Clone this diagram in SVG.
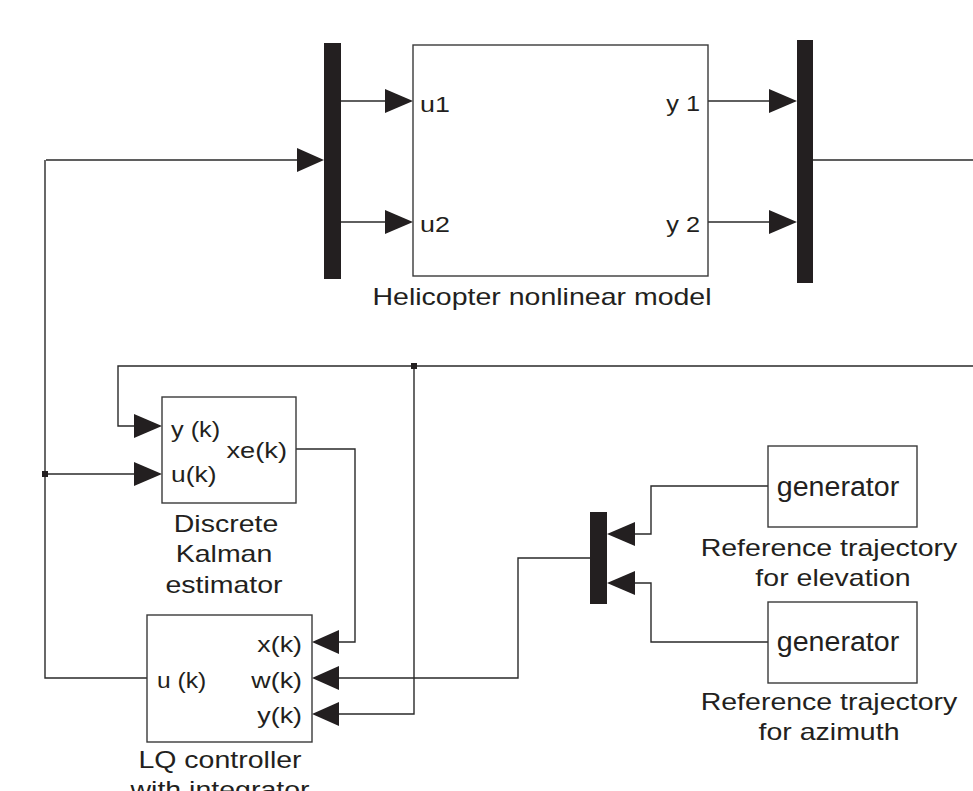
<svg xmlns="http://www.w3.org/2000/svg" width="973" height="791" viewBox="0 0 973 791">
<style>
.blk{fill:#fff;stroke:#3a3a3a;stroke-width:1.4}
.bar{fill:#231f20}
.ln{fill:none;stroke:#2a2a2a;stroke-width:1.4}
.ah{fill:#231f20}
.lbl{font-family:"Liberation Sans",Arial,sans-serif;font-size:23px;fill:#231f20}
.prt{font-family:"Liberation Sans",Arial,sans-serif;font-size:22px;fill:#231f20}
.gen{font-family:"Liberation Sans",Arial,sans-serif;font-size:27px;fill:#231f20}
.m{text-anchor:middle}
.e{text-anchor:end}
</style>
<rect width="973" height="791" fill="#fff"/>
<g id="connectors">
<path class="ln" d="M46,160H297"/>
<polygon class="ah" points="297,148 324,160 297,172"/>
<path class="ln" d="M341,101H385"/>
<polygon class="ah" points="385,89 413,101 385,113"/>
<path class="ln" d="M341,222H385"/>
<polygon class="ah" points="385,210 413,222 385,234"/>
<path class="ln" d="M708,101H769"/>
<polygon class="ah" points="769,89 797,101 769,113"/>
<path class="ln" d="M708,222H769"/>
<polygon class="ah" points="769,210 797,222 769,234"/>
<path class="ln" d="M813,160H973"/>
<path class="ln" d="M973,366H118V426H134"/>
<polygon class="ah" points="134,414 162,426 134,438"/>
<path class="ln" d="M45,474H134"/>
<polygon class="ah" points="134,462 162,474 134,486"/>
<path class="ln" d="M147,678H45V160"/>
<path class="ln" d="M296,449H355V642H339"/>
<polygon class="ah" points="339,630 312,642 339,654"/>
<path class="ln" d="M414,366V714H339"/>
<polygon class="ah" points="339,702 312,714 339,726"/>
<path class="ln" d="M590,558H518V678H339"/>
<polygon class="ah" points="339,666 312,678 339,690"/>
<path class="ln" d="M768,486H651V534H635"/>
<polygon class="ah" points="635,522 607,534 635,546"/>
<path class="ln" d="M768,642H651V583H635"/>
<polygon class="ah" points="635,571 607,583 635,595"/>
<rect x="411" y="363" width="6" height="6" fill="#231f20"/>
<rect x="42" y="471" width="6" height="6" fill="#231f20"/>
</g>
<g id="mux_in">
<rect class="bar" x="324" y="43" width="17" height="236"/>
</g>
<g id="helicopter">
<rect class="blk" x="413" y="45" width="295" height="231"/>
<text class="prt" transform="translate(420,112) scale(1.22,1)">u1</text>
<text class="prt" transform="translate(420,232) scale(1.22,1)">u2</text>
<text class="prt e" transform="translate(700,111) scale(1.15,1)">y 1</text>
<text class="prt e" transform="translate(700,232) scale(1.15,1)">y 2</text>
<text class="lbl m" transform="translate(542,305) scale(1.24,1)">Helicopter nonlinear model</text>
</g>
<g id="mux_out">
<rect class="bar" x="797" y="40" width="16" height="243"/>
</g>
<g id="kalman">
<rect class="blk" x="162" y="397" width="134" height="106"/>
<text class="prt" transform="translate(171,437) scale(1.15,1)">y (k)</text>
<text class="prt" transform="translate(171,482) scale(1.2,1)">u(k)</text>
<text class="prt e" transform="translate(287,458) scale(1.24,1)">xe(k)</text>
<text class="lbl m" transform="translate(226,532) scale(1.24,1)">Discrete</text>
<text class="lbl m" transform="translate(224,562) scale(1.24,1)">Kalman</text>
<text class="lbl m" transform="translate(224,593) scale(1.24,1)">estimator</text>
</g>
<g id="lq">
<rect class="blk" x="147" y="615" width="165" height="127"/>
<text class="prt e" transform="translate(302,652) scale(1.22,1)">x(k)</text>
<text class="prt e" transform="translate(302,688) scale(1.22,1)">w(k)</text>
<text class="prt e" transform="translate(302,723) scale(1.22,1)">y(k)</text>
<text class="prt" transform="translate(157,688) scale(1.12,1)">u (k)</text>
<text class="lbl m" transform="translate(220,768) scale(1.24,1)">LQ controller</text>
<text class="lbl m" transform="translate(220,798) scale(1.24,1)">with integrator</text>
</g>
<g id="mux_ref">
<rect class="bar" x="590" y="512" width="17" height="92"/>
</g>
<g id="gen_elev">
<rect class="blk" x="768" y="446" width="149" height="81"/>
<text class="gen m" transform="translate(838,496) scale(1.06,1)">generator</text>
<text class="lbl m" transform="translate(829,556) scale(1.24,1)">Reference trajectory</text>
<text class="lbl m" transform="translate(833,586) scale(1.24,1)">for elevation</text>
</g>
<g id="gen_azim">
<rect class="blk" x="768" y="602" width="149" height="81"/>
<text class="gen m" transform="translate(838,651) scale(1.06,1)">generator</text>
<text class="lbl m" transform="translate(829,710) scale(1.24,1)">Reference trajectory</text>
<text class="lbl m" transform="translate(829,740) scale(1.24,1)">for azimuth</text>
</g>
</svg>
